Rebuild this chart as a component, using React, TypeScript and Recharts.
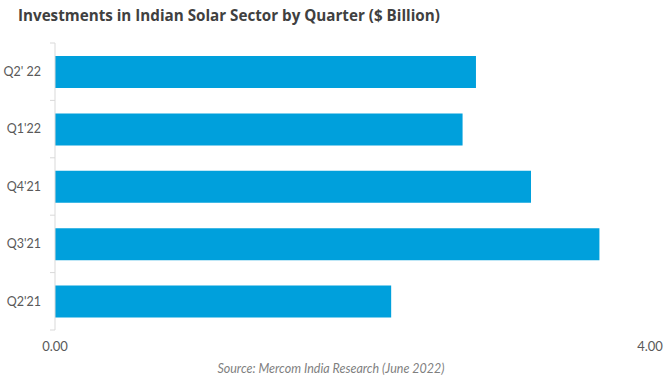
import React from "react";
import { BarChart, Bar, XAxis, YAxis } from "recharts";

const quarters = ["Q2' 22", "Q1'22", "Q4'21", "Q3'21", "Q2'21"];
const investments = [2.83, 2.74, 3.2, 3.66, 2.26];
const xTicks = [0, 4];

const data = quarters.map((q, i) => ({ quarter: q, value: investments[i] }));

const W = 670;
const H = 390;
const TOP = 43;
const BOTTOM = 330;
const band = (BOTTOM - TOP) / quarters.length;

function QuarterTick(props: any) {
  const { x, y, payload, index } = props;
  const ax = x + 8;
  return (
    <g>
      <text x={x - 6} y={y} dy="0.35em" textAnchor="end" fill="#595959" fontSize={12.5} fontFamily="Lato, 'Open Sans', sans-serif">
        {payload.value}
      </text>
      <line x1={ax - 5} x2={ax} y1={y - band / 2} y2={y - band / 2} stroke="#d9d9d9" />
      {index === quarters.length - 1 && (
        <line x1={ax - 5} x2={ax} y1={y + band / 2} y2={y + band / 2} stroke="#d9d9d9" />
      )}
    </g>
  );
}

export default function App() {
  return (
    <div style={{ position: "absolute", left: 0, top: 0, width: W, height: H, background: "#fff" }}>
      <div
        style={{
          position: "absolute",
          left: 18,
          top: 5,
          fontFamily: "'Open Sans', sans-serif",
          fontWeight: 700,
          fontSize: 15.2,
          color: "#404040",
          whiteSpace: "nowrap",
        }}
      >
        Investments in Indian Solar Sector by Quarter ($ Billion)
      </div>
      <BarChart
        width={W}
        height={H}
        data={data}
        layout="vertical"
        margin={{ top: TOP, right: 20, bottom: 30, left: 0 }}
      >
        <XAxis
          type="number"
          domain={[0, 4]}
          ticks={xTicks}
          axisLine={false}
          tickLine={false}
          tickMargin={6}
          height={30}
          tickFormatter={(v: number) => v.toFixed(2)}
          tick={{ fill: "#595959", fontSize: 13, fontFamily: "Lato, 'Open Sans', sans-serif" }}
        />
        <YAxis
          type="category"
          dataKey="quarter"
          width={55}
          axisLine={{ stroke: "#d9d9d9" }}
          tickLine={false}
          tick={<QuarterTick />}
          interval={0}
        />
        <Bar dataKey="value" fill="#00A0DC" barSize={32} isAnimationActive={false} />
      </BarChart>
      <div
        style={{
          position: "absolute",
          left: 0,
          width: W - 8,
          top: 361,
          textAlign: "center",
          fontFamily: "Lato, 'Open Sans', sans-serif",
          fontStyle: "italic",
          fontSize: 12.5,
          color: "#7f7f7f",
        }}
      >
        Source: Mercom India Research (June 2022)
      </div>
    </div>
  );
}
